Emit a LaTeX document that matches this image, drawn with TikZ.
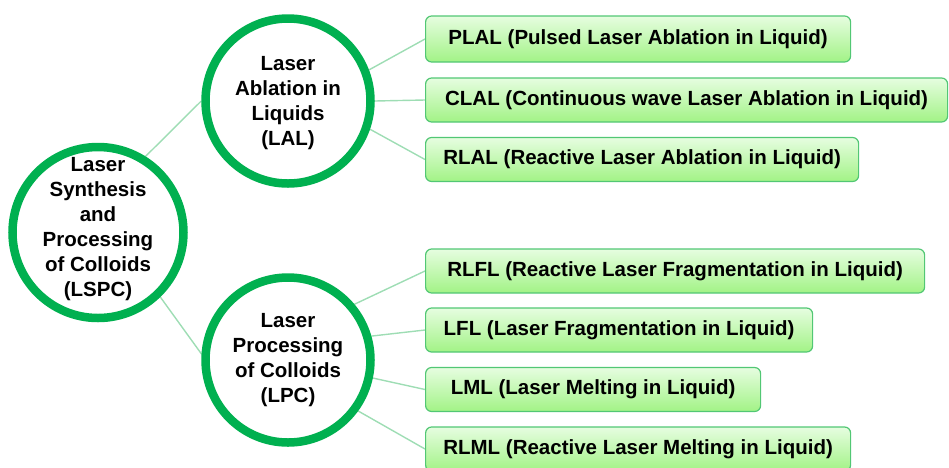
\documentclass[tikz,border=0pt]{standalone}
\usepackage{fontspec}
\setmainfont{Liberation Sans}
\usetikzlibrary{backgrounds}
\definecolor{ringgreen}{HTML}{00B050}
\definecolor{linkgreen}{HTML}{9EDDB4}
\definecolor{boxborder}{HTML}{52C774}
\definecolor{boxtop}{HTML}{E6FDE0}
\definecolor{boxbot}{HTML}{A2F386}
\begin{document}
\begin{tikzpicture}[x=1pt,y=-1pt,
 ring/.style={circle, draw=ringgreen, line width=8.5pt, fill=white, inner sep=0pt},
 ringtext/.style={align=center, font=\fontsize{20.5}{25}\selectfont\bfseries, inner sep=0pt},
 leaf/.style={rectangle, rounded corners=6pt, draw=boxborder, line width=1.2pt, top color=boxtop, bottom color=boxbot, anchor=west, inner sep=0pt, minimum height=44pt, font=\fontsize{20.5}{25}\selectfont\bfseries},
 link/.style={draw=linkgreen, line width=1.4pt}]
\useasboundingbox (0,0) rectangle (949,467);
% circles
\node[ring, minimum size=171pt] (lspc) at (98,232.5) {};
\node[ring, minimum size=165pt] (lal) at (288,101) {};
\node[ring, minimum size=165pt] (lpc) at (288,360) {};
\node[ringtext] (lspct) at (98,229) {Laser\\Synthesis\\and\\Processing\\of Colloids\\(LSPC)};
\node[ringtext] (lalt) at (288,103) {Laser\\Ablation in\\Liquids\\(LAL)};
\node[ringtext] (lpct) at (288,360) {Laser\\Processing\\of Colloids\\(LPC)};
% boxes
\node[leaf, minimum width=425pt, minimum height=46pt] (plal) at (425,39) {PLAL (Pulsed Laser Ablation in Liquid)};
\node[leaf, minimum width=522pt] (clal) at (425,100) {CLAL (Continuous wave Laser Ablation in Liquid)};
\node[leaf, minimum width=433pt] (rlal) at (425,159.5) {RLAL (Reactive Laser Ablation in Liquid)};
\node[leaf, minimum width=499pt] (rlfl) at (425,271) {RLFL (Reactive Laser Fragmentation in Liquid)};
\node[leaf, minimum width=387pt] (lfl) at (425,330) {LFL (Laser Fragmentation in Liquid)};
\node[leaf, minimum width=335pt] (lml) at (425,389.5) {LML (Laser Melting in Liquid)};
\node[leaf, minimum width=425pt] (rlml) at (425,449) {RLML (Reactive Laser Melting in Liquid)};
% links
\begin{scope}[on background layer]
\draw[link] (lspc.58) -- (lal.west);
\draw[link] (lspc.-46) -- (lpc.176);
\draw[link] (lal.21) -- (plal.west);
\draw[link] (lal.0) -- (clal.west);
\draw[link] (lal.-19) -- (rlal.west);
\draw[link] (lpc.40) -- (rlfl.west);
\draw[link] (lpc.16) -- (lfl.west);
\draw[link] (lpc.-12) -- (lml.west);
\draw[link] (lpc.-36) -- (rlml.west);
\end{scope}
\end{tikzpicture}
\end{document}
